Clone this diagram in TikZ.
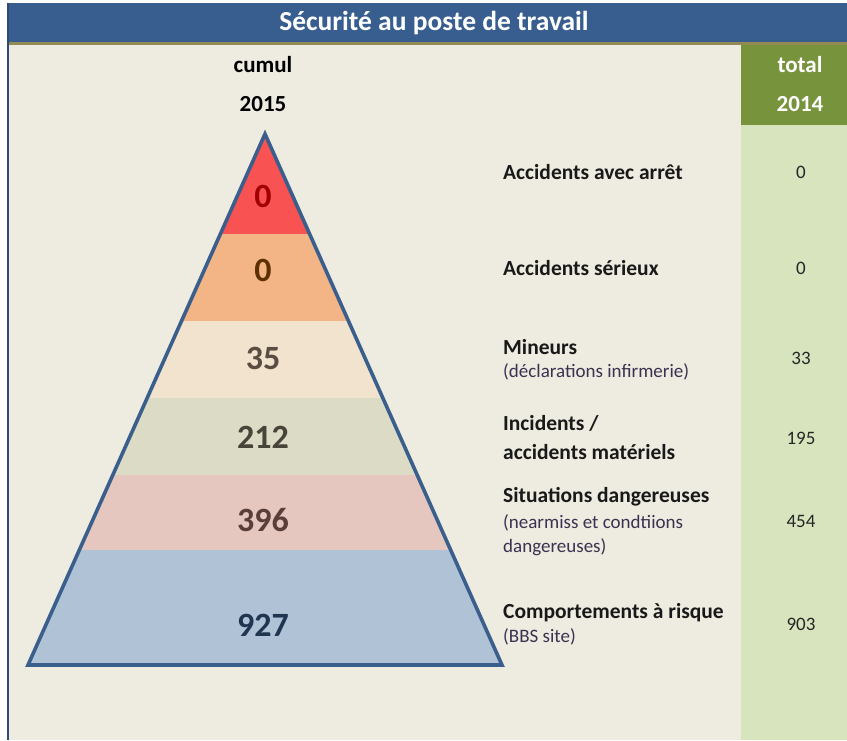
\documentclass[tikz,border=0pt]{standalone}
\usepackage{fontspec}
\setmainfont{Carlito}
\definecolor{bgbeige}{HTML}{EEEBE0}
\definecolor{titleblue}{HTML}{375E8F}
\definecolor{goldline}{HTML}{948A54}
\definecolor{colgreen}{HTML}{77933C}
\definecolor{lightgreen}{HTML}{D7E4BD}
\definecolor{frameblue}{HTML}{2E4A72}
\definecolor{pyrline}{HTML}{3A5F8C}
\definecolor{bandred}{HTML}{F95252}
\definecolor{bandorange}{HTML}{F4B586}
\definecolor{bandlight}{HTML}{F2E3CE}
\definecolor{bandgrey}{HTML}{DCDBC5}
\definecolor{bandpink}{HTML}{E5C7BF}
\definecolor{bandblue}{HTML}{B0C3D6}
\definecolor{numred}{HTML}{A00000}
\definecolor{numbrown}{HTML}{5C3000}
\definecolor{numgrey}{HTML}{5A4E44}
\definecolor{numolive}{HTML}{48443A}
\definecolor{numpink}{HTML}{5A3E3A}
\definecolor{numblue}{HTML}{1F3550}
\definecolor{subtxt}{HTML}{3A3250}
\begin{document}
\begin{tikzpicture}[x=1pt,y=-1pt,
  hdr/.style={font=\fontsize{23}{27}\selectfont\bfseries, text=black},
  hdrw/.style={font=\fontsize{23}{27}\selectfont\bfseries, text=white},
  pnum/.style={font=\fontsize{34}{38}\selectfont\bfseries},
  lab/.style={anchor=west, font=\fontsize{21.5}{25}\selectfont\bfseries, text=black!90, inner sep=0pt},
  sublab/.style={anchor=west, font=\fontsize{19}{22}\selectfont, text=subtxt, inner sep=0pt},
  val/.style={font=\fontsize{19}{22}\selectfont, text=black!85}]
\useasboundingbox (0,0) rectangle (847,740);
\fill[white] (0,0) rectangle (847,740);
\fill[bgbeige] (8,44) rectangle (847,740);
\fill[titleblue] (8,3) rectangle (847,42);
\fill[goldline] (8,42) rectangle (847,45);
\fill[colgreen] (741,45) rectangle (847,125);
\fill[lightgreen] (741,125) rectangle (847,740);
\draw[frameblue, line width=2] (8,3) -- (8,740);

\node[font=\fontsize{27.5}{31}\selectfont\bfseries, text=white] (title) at (434,23) {Sécurité au poste de travail};
\node[hdr] (cumul) at (263,65) {cumul};
\node[hdr] (y2015) at (263,104) {2015};
\node[hdrw] (total) at (800,65) {total};
\node[hdrw] (y2014) at (800,104) {2014};

\coordinate (apex) at (265,134);
\coordinate (bl) at (28,665);
\coordinate (br) at (502,665);
\begin{scope}
  \clip (apex) -- (bl) -- (br) -- cycle;
  \fill[bandred] (0,130) rectangle (540,234);
  \fill[bandorange] (0,234) rectangle (540,321);
  \fill[bandlight] (0,321) rectangle (540,398);
  \fill[bandgrey] (0,398) rectangle (540,475);
  \fill[bandpink] (0,475) rectangle (540,550);
  \fill[bandblue] (0,550) rectangle (540,670);
\end{scope}
\draw[pyrline, line width=3.6, line join=miter] (apex) -- (bl) -- (br) -- cycle;

\node[pnum, text=numred] (n1) at (263,196) {0};
\node[pnum, text=numbrown] (n2) at (263,270) {0};
\node[pnum, text=numgrey] (n3) at (263,358) {35};
\node[pnum, text=numolive] (n4) at (263,437) {212};
\node[pnum, text=numpink] (n5) at (263,520) {396};
\node[pnum, text=numblue] (n6) at (263,625) {927};

\node[lab] (l1) at (503,172) {Accidents avec arrêt};
\node[lab] (l2) at (503,268) {Accidents sérieux};
\node[lab] (l3) at (503,347) {Mineurs};
\node[sublab] (s3) at (503,372) {(déclarations infirmerie)};
\node[lab] (l4a) at (503,423) {Incidents /};
\node[lab] (l4b) at (503,452) {accidents matériels};
\node[lab] (l5) at (503,497) {Situations dangereuses};
\node[sublab] (s5a) at (503,523) {(nearmiss et condtiions};
\node[sublab] (s5b) at (503,547) {dangereuses)};
\node[lab] (l6) at (503,613) {Comportements à risque};
\node[sublab] (s6) at (503,637) {(BBS site)};

\node[val] (v1) at (801,172) {0};
\node[val] (v2) at (801,268) {0};
\node[val] (v3) at (801,358) {33};
\node[val] (v4) at (801,438) {195};
\node[val] (v5) at (801,521) {454};
\node[val] (v6) at (801,624) {903};
\end{tikzpicture}
\end{document}
